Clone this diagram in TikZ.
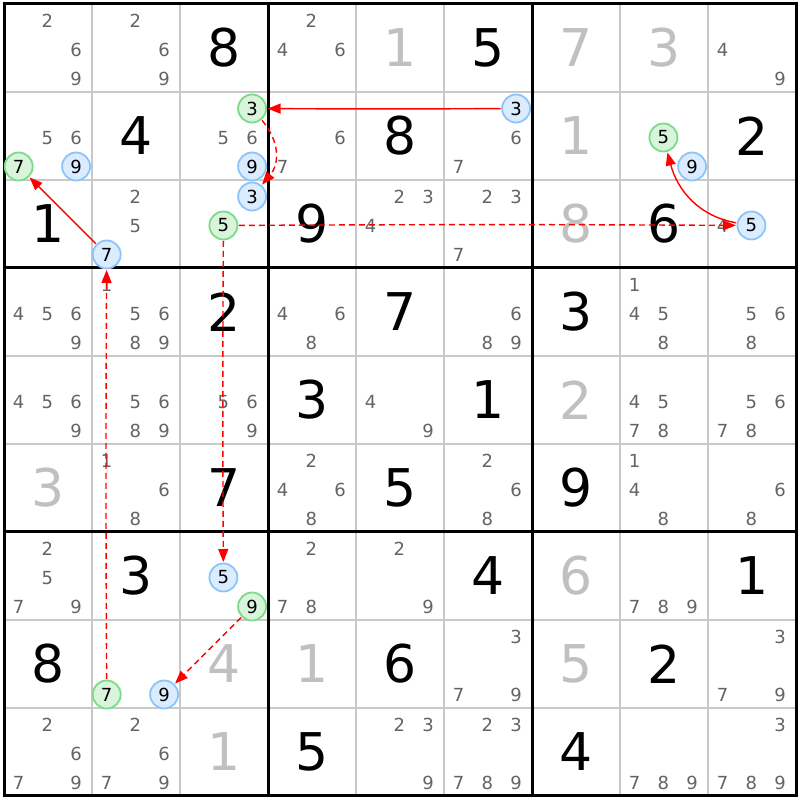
\documentclass[tikz,border=0pt]{standalone}
\usepackage{fontspec}
\setmainfont{DejaVu Sans}
\newfontfamily\candfont[Color=646464]{DejaVu Sans}
\newfontfamily\greyfont[Color=C0C0C0]{DejaVu Sans}
\usetikzlibrary{arrows.meta}
\definecolor{thingrid}{RGB}{200,200,200}
\definecolor{gfill}{RGB}{216,245,220}
\definecolor{gline}{RGB}{125,218,135}
\definecolor{bfill}{RGB}{219,236,255}
\definecolor{bline}{RGB}{140,196,250}
\definecolor{linkred}{RGB}{255,0,0}
\newcommand\SCand[3]{\foreach \dd in {#3}{%
  \pgfmathtruncatemacro\kx{mod(\dd-1,3)}%
  \pgfmathtruncatemacro\ky{div(\dd-1,3)}%
  \node[cand] (k#1-#2-\dd) at ({18.7+88*(#2-1)+28.7*\kx},{779-88*(#1-1)-29*\ky}) {\dd};}}
\newcommand\SMark[4]{%
  \pgfmathtruncatemacro\kx{mod(#3-1,3)}%
  \pgfmathtruncatemacro\ky{div(#3-1,3)}%
  \node[#4] (m#1-#2-#3) at ({18.7+88*(#2-1)+28.7*\kx},{779.5-88*(#1-1)-29*\ky}) {#3};}
\newcommand\SGiven[4]{\node[#4] (g#1-#2) at ({48+88*(#2-1)},{752-88*(#1-1)}) {#3};}
\begin{document}
\begin{tikzpicture}[x=1pt,y=1pt,
  cand/.style={font={\candfont\fontsize{18}{18}\selectfont},inner sep=0pt},
  bigblack/.style={font={\fontsize{52}{52}\selectfont},inner sep=0pt},
  biggrey/.style={font={\greyfont\fontsize{52}{52}\selectfont},inner sep=0pt},
  gmark/.style={circle,draw=gline,fill=gfill,line width=1.8pt,minimum size=28pt,inner sep=0pt,outer sep=1.5pt,font={\fontsize{18}{18}\selectfont}},
  bmark/.style={circle,draw=bline,fill=bfill,line width=1.8pt,minimum size=28pt,inner sep=0pt,outer sep=1.5pt,font={\fontsize{18}{18}\selectfont}},
  linktip/.style={-{Triangle[length=13pt,width=10pt,fill=linkred]}},
  strongln/.style={draw=linkred,line width=1.4pt,linktip},
  weakln/.style={draw=linkred,line width=1.4pt,dash pattern=on 6pt off 4pt,linktip},
]
\useasboundingbox (0,0) rectangle (800,800);
\fill[white] (0,0) rectangle (800,800);
% thin grid
\foreach \i in {1,2,4,5,7,8}{
  \draw[draw=thingrid,line width=1.5pt] ({4+88*\i},4) -- ({4+88*\i},796);
  \draw[draw=thingrid,line width=1.5pt] (4,{4+88*\i}) -- (796,{4+88*\i});
}
\foreach \i in {0,3,6,9}{
  \draw[draw=black,line width=3pt] ({4+88*\i},2.5) -- ({4+88*\i},797.5);
  \draw[draw=black,line width=3pt] (2.5,{4+88*\i}) -- (797.5,{4+88*\i});
}
% row 1
\SCand{1}{1}{2,6,9}
\SCand{1}{2}{2,6,9}
\SGiven{1}{3}{8}{bigblack}
\SCand{1}{4}{2,4,6}
\SGiven{1}{5}{1}{biggrey}
\SGiven{1}{6}{5}{bigblack}
\SGiven{1}{7}{7}{biggrey}
\SGiven{1}{8}{3}{biggrey}
\SCand{1}{9}{4,9}
% row 2
\SCand{2}{1}{5,6}
\SGiven{2}{2}{4}{bigblack}
\SCand{2}{3}{5,6}
\SCand{2}{4}{6,7}
\SGiven{2}{5}{8}{bigblack}
\SCand{2}{6}{6,7}
\SGiven{2}{7}{1}{biggrey}
\SGiven{2}{9}{2}{bigblack}
% row 3
\SGiven{3}{1}{1}{bigblack}
\SCand{3}{2}{2,5}
\SGiven{3}{4}{9}{bigblack}
\SCand{3}{5}{2,3,4}
\SCand{3}{6}{2,3,7}
\SGiven{3}{7}{8}{biggrey}
\SGiven{3}{8}{6}{bigblack}
\SCand{3}{9}{4}
% row 4
\SCand{4}{1}{4,5,6,9}
\SCand{4}{2}{1,5,6,8,9}
\SGiven{4}{3}{2}{bigblack}
\SCand{4}{4}{4,6,8}
\SGiven{4}{5}{7}{bigblack}
\SCand{4}{6}{6,8,9}
\SGiven{4}{7}{3}{bigblack}
\SCand{4}{8}{1,4,5,8}
\SCand{4}{9}{5,6,8}
% row 5
\SCand{5}{1}{4,5,6,9}
\SCand{5}{2}{5,6,8,9}
\SCand{5}{3}{5,6,9}
\SGiven{5}{4}{3}{bigblack}
\SCand{5}{5}{4,9}
\SGiven{5}{6}{1}{bigblack}
\SGiven{5}{7}{2}{biggrey}
\SCand{5}{8}{4,5,7,8}
\SCand{5}{9}{5,6,7,8}
% row 6
\SGiven{6}{1}{3}{biggrey}
\SCand{6}{2}{1,6,8}
\SGiven{6}{3}{7}{bigblack}
\SCand{6}{4}{2,4,6,8}
\SGiven{6}{5}{5}{bigblack}
\SCand{6}{6}{2,6,8}
\SGiven{6}{7}{9}{bigblack}
\SCand{6}{8}{1,4,8}
\SCand{6}{9}{6,8}
% row 7
\SCand{7}{1}{2,5,7,9}
\SGiven{7}{2}{3}{bigblack}
\SCand{7}{4}{2,7,8}
\SCand{7}{5}{2,9}
\SGiven{7}{6}{4}{bigblack}
\SGiven{7}{7}{6}{biggrey}
\SCand{7}{8}{7,8,9}
\SGiven{7}{9}{1}{bigblack}
% row 8
\SGiven{8}{1}{8}{bigblack}
\SGiven{8}{3}{4}{biggrey}
\SGiven{8}{4}{1}{biggrey}
\SGiven{8}{5}{6}{bigblack}
\SCand{8}{6}{3,7,9}
\SGiven{8}{7}{5}{biggrey}
\SGiven{8}{8}{2}{bigblack}
\SCand{8}{9}{3,7,9}
% row 9
\SCand{9}{1}{2,6,7,9}
\SCand{9}{2}{2,6,7,9}
\SGiven{9}{3}{1}{biggrey}
\SGiven{9}{4}{5}{bigblack}
\SCand{9}{5}{2,3,9}
\SCand{9}{6}{2,3,7,8,9}
\SGiven{9}{7}{4}{bigblack}
\SCand{9}{8}{7,8,9}
\SCand{9}{9}{3,7,8,9}
% marked candidates
\SMark{2}{1}{7}{gmark}
\SMark{2}{1}{9}{bmark}
\SMark{2}{3}{3}{gmark}
\SMark{2}{3}{9}{bmark}
\SMark{2}{6}{3}{bmark}
\SMark{2}{8}{5}{gmark}
\SMark{2}{8}{9}{bmark}
\SMark{3}{2}{7}{bmark}
\SMark{3}{3}{3}{bmark}
\SMark{3}{3}{5}{gmark}
\SMark{3}{9}{5}{bmark}
\SMark{7}{3}{5}{bmark}
\SMark{7}{3}{9}{gmark}
\SMark{8}{2}{7}{gmark}
\SMark{8}{2}{9}{bmark}
% links
\draw[strongln] (m2-6-3) to[bend left=0.3] (m2-3-3);
\draw[weakln] (m2-3-3) to[out=-50,in=50,looseness=1.1] (m3-3-3);
\draw[strongln] (m3-2-7) -- (m2-1-7);
\draw[weakln] (m3-3-5) to[bend left=0.3] (m3-9-5);
\draw[strongln] (m3-9-5) to[out=170,in=-75] (m2-8-5);
\draw[weakln] (m3-3-5) to[bend right=0.3] (m7-3-5);
\draw[weakln] (m7-3-9) -- (m8-2-9);
\draw[weakln] (m8-2-7) to[bend left=0.3] (m3-2-7);
\end{tikzpicture}
\end{document}
